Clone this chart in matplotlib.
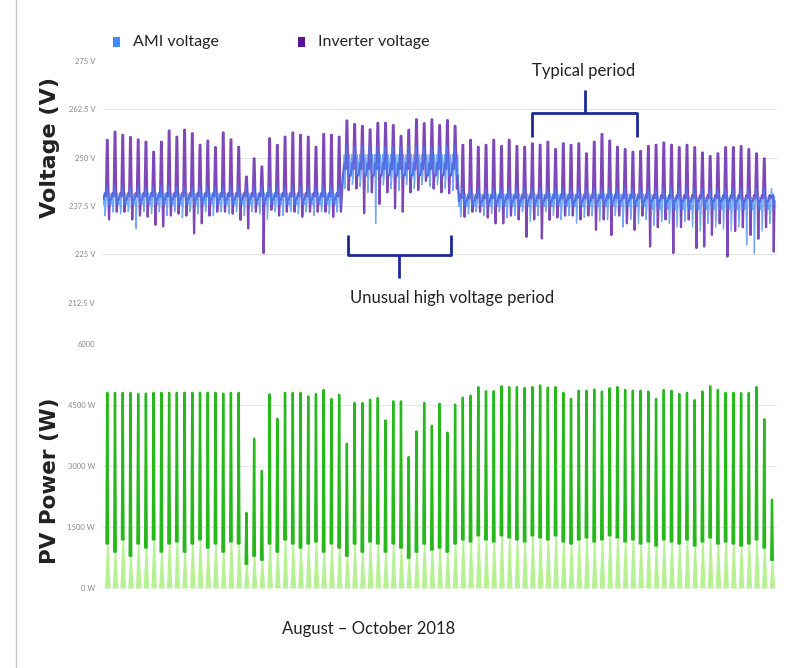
import numpy as np
import matplotlib.pyplot as plt
from matplotlib.patches import Rectangle
from matplotlib.lines import Line2D

# one value per day, August - October 2018
pv_peak = [4800, 4800, 4800, 4800, 4770, 4780, 4800, 4800, 4800, 4800,
           4800, 4800, 4800, 4800, 4800, 4780, 4800, 4800, 1850, 3670,
           2880, 4760, 4160, 4800, 4800, 4800, 4710, 4770, 4870, 4650,
           4750, 3550, 4550, 4550, 4630, 4670, 4120, 4590, 4590, 3220,
           3850, 4550, 3990, 4530, 3820, 4510, 4680, 4730, 4940, 4840,
           4840, 4960, 4940, 4940, 4920, 4940, 4980, 4930, 4940, 4800,
           4650, 4850, 4850, 4880, 4830, 4910, 4940, 4870, 4850, 4850,
           4830, 4650, 4870, 4850, 4770, 4800, 4620, 4830, 4960, 4870,
           4800, 4800, 4790, 4800, 4940, 4150, 2170]
pv_shoulder = [1100, 900, 1200, 800, 1100, 1000, 1200, 900, 1100, 1150,
               900, 1100, 1200, 1000, 1100, 900, 1150, 1100, 600, 800,
               700, 1100, 900, 1200, 1100, 1000, 1100, 1150, 900, 1100,
               1000, 800, 1100, 900, 1150, 1100, 900, 1100, 1000, 750,
               900, 1100, 950, 1000, 900, 1100, 1200, 1150, 1300, 1200,
               1150, 1300, 1250, 1200, 1150, 1300, 1250, 1200, 1300, 1150,
               1100, 1200, 1250, 1150, 1200, 1300, 1250, 1150, 1200, 1100,
               1150, 1050, 1200, 1150, 1100, 1200, 1050, 1150, 1250, 1100,
               1150, 1100, 1050, 1100, 1200, 1000, 700]

inv_peak = [254.6, 256.7, 255.9, 255.3, 254.7, 254.1, 251.5, 254.1, 257.0, 255.4,
            257.2, 256.3, 253.3, 254.4, 252.7, 256.5, 254.7, 252.8, 245.1, 249.8,
            247.7, 255.0, 253.3, 255.4, 256.5, 255.9, 255.4, 252.8, 256.1, 255.9,
            255.4, 259.6, 258.7, 258.2, 257.3, 259.0, 259.0, 258.4, 255.6, 257.2,
            259.9, 258.9, 259.9, 258.4, 259.7, 258.2, 253.3, 254.6, 252.8, 253.3,
            254.6, 253.0, 254.6, 253.0, 252.8, 253.7, 253.3, 254.1, 252.2, 253.7,
            253.3, 253.7, 251.1, 254.1, 256.1, 254.4, 252.8, 252.2, 251.5, 251.7,
            253.0, 253.3, 253.9, 253.3, 252.7, 253.3, 252.7, 251.3, 250.4, 251.1,
            252.7, 252.7, 253.0, 252.2, 251.1, 249.8, 240.1]
inv_dip = [234.0, 236.0, 236.0, 234.0, 235.0, 234.7, 232.6, 232.2, 235.0, 235.5,
           235.0, 230.4, 233.0, 235.0, 236.0, 236.0, 235.5, 233.9, 231.7, 236.0,
           225.3, 236.5, 235.0, 236.0, 236.0, 234.7, 236.0, 236.0, 236.0, 234.7,
           236.0, 241.6, 242.0, 235.6, 241.0, 238.0, 241.0, 236.9, 236.0, 241.0,
           241.6, 244.0, 242.0, 241.0, 240.8, 242.0, 234.7, 236.0, 236.0, 234.5,
           233.0, 233.0, 235.0, 234.0, 229.5, 234.0, 229.1, 233.9, 234.5, 235.0,
           235.0, 234.0, 235.0, 231.3, 234.0, 230.0, 235.0, 233.0, 231.3, 235.0,
           227.0, 232.0, 234.0, 225.3, 232.0, 234.0, 226.6, 227.0, 230.0, 233.0,
           224.4, 231.0, 232.0, 230.0, 229.0, 232.0, 225.7]
inv_base = [240.0] * 31 + [247.0] * 15 + [239.5] * 41

ami_base = [239.3] * 31 + [248.0] * 15 + [239.0] * 25 + [238.2] * 16
ami_peak = [242.5] * 31 + [253.0] * 15 + [242.0] * 41
ami_dip = [235.0, 236.0, 235.5, 236.0, 231.7, 236.0, 235.5, 236.0, 235.0, 236.0,
           234.5, 236.0, 235.5, 236.0, 235.0, 236.0, 235.5, 236.0, 235.0, 236.0,
           235.5, 234.0, 236.0, 235.0, 236.0, 235.5, 236.0, 235.0, 236.0, 235.5,
           236.0, 242.0, 243.0, 242.5, 241.0, 233.0, 243.0, 242.0, 241.5, 243.0,
           242.0, 243.0, 242.5, 243.0, 242.0, 241.5, 234.7, 235.5, 236.0, 235.0,
           235.5, 236.0, 234.5, 235.0, 236.0, 233.5, 235.0, 236.0, 235.0, 234.0,
           235.0, 233.0, 234.5, 235.0, 233.5, 234.0, 235.0, 232.0, 234.0, 233.0,
           234.0, 232.5, 233.5, 233.0, 232.0, 233.5, 232.0, 231.0, 233.0, 232.0,
           231.5, 231.0, 232.0, 227.4, 225.3, 231.0, 233.0]

# night-time band half widths (V)
ami_spread = [1.5] * 31 + [2.8] * 15 + [1.6] * 41
inv_spread = [0.8] * 31 + [1.5] * 15 + [0.8] * 41

days = np.arange(len(pv_peak))


def day_shape(offsets, columns):
    # chain the per-day points into one polyline
    xs, ys = [], []
    for i in days:
        for off, col in zip(offsets, columns):
            xs.append(i + off)
            ys.append(col[i])
    return np.array(xs), np.array(ys)


zero = [0] * len(days)
pv_x, pv_y = day_shape([-0.36, -0.1, 0.0, 0.1, 0.36],
                       [zero, pv_shoulder, pv_peak, pv_shoulder, zero])

inv_lo = [b - s for b, s in zip(inv_base, inv_spread)]
inv_hi = [b + s for b, s in zip(inv_base, inv_spread)]
inv_x, inv_y = day_shape([-0.5, -0.3, -0.17, -0.04, 0.05, 0.15, 0.23, 0.32],
                         [inv_lo, inv_hi, inv_base, inv_peak, inv_peak,
                          inv_hi, inv_dip, inv_lo])

ami_lo = [b - s for b, s in zip(ami_base, ami_spread)]
ami_hi = [b + s for b, s in zip(ami_base, ami_spread)]
ami_x, ami_y = day_shape([-0.5, -0.36, -0.28, -0.18, -0.07, 0.06, 0.2, 0.34],
                         [ami_lo, ami_hi, ami_dip, ami_lo, ami_peak, ami_hi,
                          ami_lo, ami_hi])

W, H = 790, 668
fig = plt.figure(figsize=(W / 100, H / 100), dpi=100)
label_font = ['Lato', 'DejaVu Sans']

x0, x1 = 103.4, 777.4
ax_v = fig.add_axes([x0 / W, 1 - 302.6 / H, (x1 - x0) / W, (302.6 - 61) / H])
ax_p = fig.add_axes([x0 / W, 1 - 588 / H, (x1 - x0) / W, (588 - 344) / H])

# voltage panel
ax_v.plot(inv_x, inv_y, color='#5e1aa8', lw=1.6, alpha=0.8, zorder=3)
ax_v.plot(ami_x, ami_y, color='#3c84f7', lw=1.0, alpha=0.7, zorder=4)
v_ticks = [212.5, 225, 237.5, 250, 262.5, 275]
ax_v.set_ylim(212.5, 275)
ax_v.set_yticks(v_ticks)
ax_v.set_yticklabels(['212.5 V', '225 V', '237.5 V', '250 V', '262.5 V', '275 V'])
for v in v_ticks[:-1]:
    ax_v.axhline(v, color='#e4e4e4', lw=0.8, zorder=1)

# PV power panel
ax_p.fill_between(pv_x, pv_y, color='#b6f294', lw=0, zorder=2)
upper = pv_y.copy().astype(float)
upper[::5] = np.nan
upper[4::5] = np.nan
ax_p.plot(pv_x, upper, color='#27b81c', lw=1.7, zorder=3)
ax_p.set_ylim(0, 6000)
ax_p.set_yticks([0, 1500, 3000, 4500, 6000])
ax_p.set_yticklabels(['0 W', '1500 W', '3000 W', '4500 W', '6000'])
for p in [1500, 3000, 4500]:
    ax_p.axhline(p, color='#e8e8e8', lw=0.8, zorder=1)
ax_p.axhline(0, color='#cfcfcf', lw=1.0, zorder=4)

for ax in (ax_v, ax_p):
    ax.set_xlim(-0.5, 86.7)
    ax.set_xticks([])
    for s in ax.spines.values():
        s.set_visible(False)
    ax.tick_params(axis='y', length=0, pad=6, labelsize=5.5, labelcolor='#8a8a8a')
    for lab in ax.get_yticklabels():
        lab.set_family(label_font)

fig.text(50 / W, 1 - 147 / H, 'Voltage (V)', rotation=90, ha='center', va='center',
         fontsize=16, fontweight='bold', color='#222222')
fig.text(50 / W, 1 - 481 / H, 'PV Power (W)', rotation=90, ha='center', va='center',
         fontsize=15.5, fontweight='bold', color='#222222')

# legend
fig.add_artist(Rectangle((113 / W, 1 - 47 / H), 7 / W, 10 / H, transform=fig.transFigure,
                         color='#3d8bff', lw=0))
fig.add_artist(Rectangle((298 / W, 1 - 47 / H), 7 / W, 10 / H, transform=fig.transFigure,
                         color='#5a129e', lw=0))
fig.text(133 / W, 1 - 42 / H, 'AMI voltage', ha='left', va='center', fontsize=11.5,
         family=label_font, color='#222222')
fig.text(318 / W, 1 - 42 / H, 'Inverter voltage', ha='left', va='center', fontsize=11.5,
         family=label_font, color='#222222')

# period brackets
brace = dict(color='#1b2a98', lw=2.0, solid_capstyle='butt', solid_joinstyle='round',
             clip_on=False, zorder=6)
ax_v.plot([54.9, 54.9, 68.5, 68.5], [255.4, 261.5, 261.5, 255.4], **brace)
ax_v.plot([61.8, 61.8], [261.5, 267.5], **brace)
ax_v.plot([31.1, 31.1, 44.5, 44.5], [230.0, 224.7, 224.7, 230.0], **brace)
ax_v.plot([37.7, 37.7], [224.7, 218.8], **brace)

fig.text(584 / W, 1 - 71 / H, 'Typical period', ha='center', va='center', fontsize=12,
         family=label_font, color='#222222')
fig.text(452 / W, 1 - 298 / H, 'Unusual high voltage period', ha='center', va='center',
         fontsize=12, family=label_font, color='#222222')
fig.text(369 / W, 1 - 629 / H, 'August \u2013 October 2018', ha='center', va='center',
         fontsize=12, family=label_font, color='#222222')

fig.add_artist(Line2D([16 / W, 16 / W], [0, 1], color='#c8c8c8', lw=1.0))

fig.savefig('out.png', dpi=100)
